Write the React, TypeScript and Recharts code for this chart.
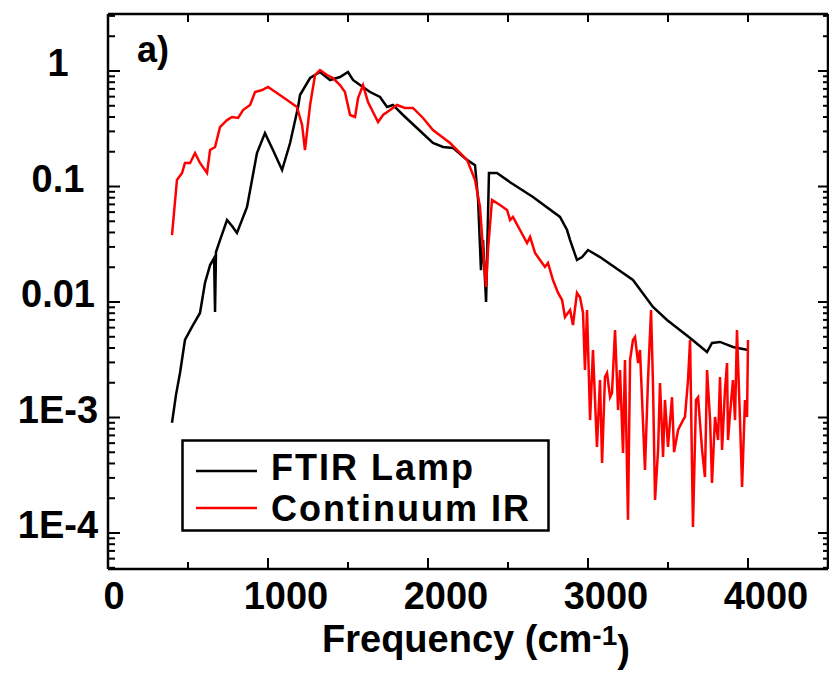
import { LineChart, Line, XAxis, YAxis, Legend } from 'recharts';

const FONT = '"Liberation Sans", Arial, sans-serif';

// axis ranges
const X_MIN = 0;
const X_MAX = 4500;
const Y_MIN = 4.88e-5;
const Y_MAX = 3.116;

const X_TICKS = [0, 500, 1000, 1500, 2000, 2500, 3000, 3500, 4000, 4500];
const X_LABELED = [0, 1000, 2000, 3000, 4000];

const Y_MAJOR = [1, 0.1, 0.01, 0.001, 0.0001];
const Y_LABELS = ['1', '0.1', '0.01', '1E-3', '1E-4'];
const DECADES = [1e-5, 1e-4, 1e-3, 1e-2, 1e-1, 1];
const MINOR_STEPS = [2, 3, 4, 5, 6, 7, 8, 9];

// FTIR Lamp (black)
const FTIR_FREQ = [400, 425, 450, 481, 525, 575, 606, 638, 663, 669, 675, 700, 744, 775, 806, 869, 931, 981, 1031, 1088, 1138, 1188, 1200, 1263, 1325, 1388, 1450, 1500, 1531, 1575, 1638, 1700, 1744, 1781, 1844, 1931, 2031, 2094, 2156, 2244, 2294, 2313, 2331, 2344, 2363, 2381, 2431, 2513, 2656, 2825, 2869, 2888, 2931, 2963, 3000, 3075, 3281, 3406, 3494, 3638, 3744, 3775, 3825, 3906, 4000];
const FTIR_VAL = [0.0009, 0.00157, 0.00243, 0.00469, 0.00608, 0.00804, 0.0146, 0.0209, 0.024, 0.0082, 0.0271, 0.0344, 0.0513, 0.0455, 0.0396, 0.0665, 0.195, 0.29, 0.207, 0.139, 0.238, 0.488, 0.62, 0.87, 0.98, 0.836, 0.887, 0.98, 0.836, 0.756, 0.658, 0.596, 0.488, 0.508, 0.416, 0.321, 0.238, 0.22, 0.216, 0.17, 0.153, 0.0764, 0.0189, 0.0344, 0.01, 0.131, 0.131, 0.109, 0.0811, 0.0545, 0.042, 0.0344, 0.0231, 0.0245, 0.0282, 0.0245, 0.0155, 0.00905, 0.00699, 0.00488, 0.00369, 0.00442, 0.00451, 0.00408, 0.00384];

// Continuum IR (red)
const CONT_FREQ = [400, 431, 463, 481, 513, 544, 575, 619, 638, 669, 700, 744, 775, 813, 844, 888, 919, 963, 1000, 1056, 1119, 1181, 1213, 1231, 1263, 1294, 1325, 1369, 1406, 1450, 1481, 1513, 1544, 1563, 1594, 1625, 1656, 1688, 1719, 1763, 1806, 1856, 1906, 1969, 2031, 2138, 2244, 2294, 2325, 2344, 2363, 2375, 2400, 2450, 2494, 2513, 2531, 2575, 2619, 2638, 2669, 2700, 2731, 2750, 2781, 2813, 2838, 2856, 2888, 2906, 2931, 2950, 2969, 2981, 2994, 3013, 3031, 3056, 3075, 3088, 3106, 3119, 3138, 3150, 3169, 3188, 3200, 3219, 3231, 3250, 3263, 3281, 3294, 3313, 3325, 3338, 3356, 3375, 3394, 3406, 3419, 3438, 3450, 3469, 3481, 3500, 3525, 3538, 3563, 3594, 3606, 3625, 3638, 3656, 3675, 3688, 3713, 3731, 3744, 3763, 3775, 3794, 3813, 3825, 3838, 3856, 3869, 3875, 3888, 3906, 3919, 3931, 3950, 3963, 3981, 3994, 4000];
const CONT_VAL = [0.038, 0.114, 0.131, 0.16, 0.16, 0.195, 0.16, 0.131, 0.207, 0.22, 0.327, 0.376, 0.4, 0.392, 0.459, 0.508, 0.658, 0.684, 0.727, 0.645, 0.561, 0.488, 0.341, 0.207, 0.508, 0.923, 1.02, 0.923, 0.87, 0.756, 0.658, 0.416, 0.4, 0.584, 0.756, 0.539, 0.442, 0.362, 0.416, 0.459, 0.508, 0.479, 0.479, 0.392, 0.308, 0.238, 0.17, 0.114, 0.0665, 0.0282, 0.0135, 0.0282, 0.0764, 0.0692, 0.0626, 0.0513, 0.0545, 0.042, 0.0324, 0.0366, 0.0266, 0.0231, 0.0201, 0.0218, 0.0155, 0.012, 0.0104, 0.00741, 0.00853, 0.00632, 0.012, 0.011, 0.00804, 0.00258, 0.00853, 0.00095, 0.00384, 0.000556, 0.00211, 0.000404, 0.00224, 0.00243, 0.0015, 0.00163, 0.00573, 0.00116, 0.00258, 0.000493, 0.00315, 0.00013, 0.00315, 0.00469, 0.00498, 0.00296, 0.00384, 0.00142, 0.000351, 0.00211, 0.00853, 0.00199, 0.000193, 0.000523, 0.00199, 0.000455, 0.00142, 0.000556, 0.0015, 0.000502, 0.00078, 0.00095, 0.00101, 0.00211, 0.00469, 0.000113, 0.00142, 0.0015, 0.000523, 0.000305, 0.00258, 0.00095, 0.000271, 0.00101, 0.000638, 0.00224, 0.000523, 0.00173, 0.00296, 0.000638, 0.00109, 0.00211, 0.00095, 0.00573, 0.00095, 0.00025, 0.00142, 0.00101, 0.00469];

const ftirData = FTIR_FREQ.map((f, i) => ({ f, v: FTIR_VAL[i] }));
const contData = CONT_FREQ.map((f, i) => ({ f, v: CONT_VAL[i] }));

const yTicks = [
  ...Y_MAJOR,
  ...DECADES.flatMap(d => MINOR_STEPS.map(m => m * d)),
].filter(v => v >= Y_MIN && v <= Y_MAX);

const majorIndex = (v: number) =>
  Y_MAJOR.findIndex(m => Math.abs(Math.log10(v) - Math.log10(m)) < 1e-6);

const LeftTick = ({ x, y, payload }: any) => {
  const idx = majorIndex(payload.value);
  const major = idx >= 0;
  return (
    <g>
      <line x1={x} x2={x + (major ? 12 : 7)} y1={y} y2={y} stroke="#000" strokeWidth={2} />
      {major && (
        <text x={x - 50} y={y + 5} textAnchor="middle" fontFamily={FONT} fontWeight="bold" fontSize={38} fill="#000">
          {Y_LABELS[idx]}
        </text>
      )}
    </g>
  );
};

const RightTick = ({ x, y, payload }: any) => {
  const major = majorIndex(payload.value) >= 0;
  return <line x1={x} x2={x - (major ? 10 : 5)} y1={y} y2={y} stroke="#000" strokeWidth={2} />;
};

const BottomTick = ({ x, y, payload }: any) => {
  const v = payload.value;
  const labeled = X_LABELED.includes(v);
  return (
    <g>
      <line x1={x} x2={x} y1={y} y2={y - (labeled ? 11 : 7)} stroke="#000" strokeWidth={2} />
      {labeled && (
        <text x={x + (v === 0 ? 6 : 18)} y={y + 40} textAnchor="middle" fontFamily={FONT} fontWeight="bold" fontSize={38} fill="#000">
          {v}
        </text>
      )}
    </g>
  );
};

const TopTick = ({ x, y }: any) => (
  <line x1={x} x2={x} y1={y} y2={y + 8} stroke="#000" strokeWidth={2} />
);

const XLabel = ({ viewBox }: any) => (
  <text x={viewBox.x + 214} y={viewBox.y + 83} fontFamily={FONT} fontWeight="bold" fontSize={38} fill="#000">
    Frequency (cm
    <tspan fontSize={28} dy={-7}>-1</tspan>
    <tspan fontSize={38} dy={17}>)</tspan>
  </text>
);

const LegendBox = () => (
  <svg width={370} height={94} style={{ display: 'block' }}>
    <rect x={1.5} y={1.5} width={366} height={90} fill="#fff" stroke="#000" strokeWidth={2.5} />
    <line x1={15} x2={76} y1={32} y2={32} stroke="#000" strokeWidth={2.5} />
    <line x1={15} x2={76} y1={69} y2={69} stroke="#ff0000" strokeWidth={2.5} />
    <text x={90} y={41} fontFamily={FONT} fontWeight="bold" fontSize={36} letterSpacing={2} fill="#000">FTIR Lamp</text>
    <text x={90} y={82} fontFamily={FONT} fontWeight="bold" fontSize={36} letterSpacing={2} fill="#000">Continuum IR</text>
  </svg>
);

const axisLine = { stroke: '#000', strokeWidth: 2.5 };

export default function App() {
  return (
    <div style={{ position: 'absolute', left: 0, top: 0, width: 829, height: 673, background: '#fff' }}>
      <LineChart width={829} height={673} margin={{ top: 13, right: 0, bottom: 0, left: 0 }}>
        <XAxis
          xAxisId="bottom"
          dataKey="f"
          type="number"
          domain={[X_MIN, X_MAX]}
          allowDataOverflow
          ticks={X_TICKS}
          interval={0}
          height={104}
          tickSize={0}
          tickMargin={0}
          tickLine={false}
          axisLine={axisLine}
          tick={<BottomTick />}
          label={XLabel}
        />
        <XAxis
          xAxisId="top"
          orientation="top"
          dataKey="f"
          type="number"
          domain={[X_MIN, X_MAX]}
          allowDataOverflow
          ticks={X_TICKS}
          interval={0}
          height={1}
          tickSize={0}
          tickMargin={0}
          tickLine={false}
          axisLine={axisLine}
          tick={<TopTick />}
        />
        <YAxis
          yAxisId="left"
          type="number"
          scale="log"
          domain={[Y_MIN, Y_MAX]}
          allowDataOverflow
          ticks={yTicks}
          interval={0}
          width={108}
          tickSize={0}
          tickMargin={0}
          tickLine={false}
          axisLine={axisLine}
          tick={<LeftTick />}
        />
        <YAxis
          yAxisId="right"
          orientation="right"
          type="number"
          scale="log"
          domain={[Y_MIN, Y_MAX]}
          allowDataOverflow
          ticks={yTicks}
          interval={0}
          width={1}
          tickSize={0}
          tickMargin={0}
          tickLine={false}
          axisLine={axisLine}
          tick={<RightTick />}
        />
        <Line
          data={ftirData}
          dataKey="v"
          name="FTIR Lamp"
          xAxisId="bottom"
          yAxisId="left"
          type="linear"
          stroke="#000"
          strokeWidth={2.5}
          dot={false}
          isAnimationActive={false}
        />
        <Line
          data={contData}
          dataKey="v"
          name="Continuum IR"
          xAxisId="bottom"
          yAxisId="left"
          type="linear"
          stroke="#ff0000"
          strokeWidth={2.5}
          dot={false}
          isAnimationActive={false}
        />
        <Legend
          layout="horizontal"
          verticalAlign="middle"
          align="center"
          content={<LegendBox />}
          wrapperStyle={{ position: 'absolute', left: 181, top: 439, width: 370, height: 94 }}
        />
      </LineChart>
      <div
        style={{
          position: 'absolute', left: 137, top: 30, fontFamily: FONT, fontWeight: 'bold',
          fontSize: 36, lineHeight: '40px', color: '#000',
        }}
      >
        a)
      </div>
    </div>
  );
}
